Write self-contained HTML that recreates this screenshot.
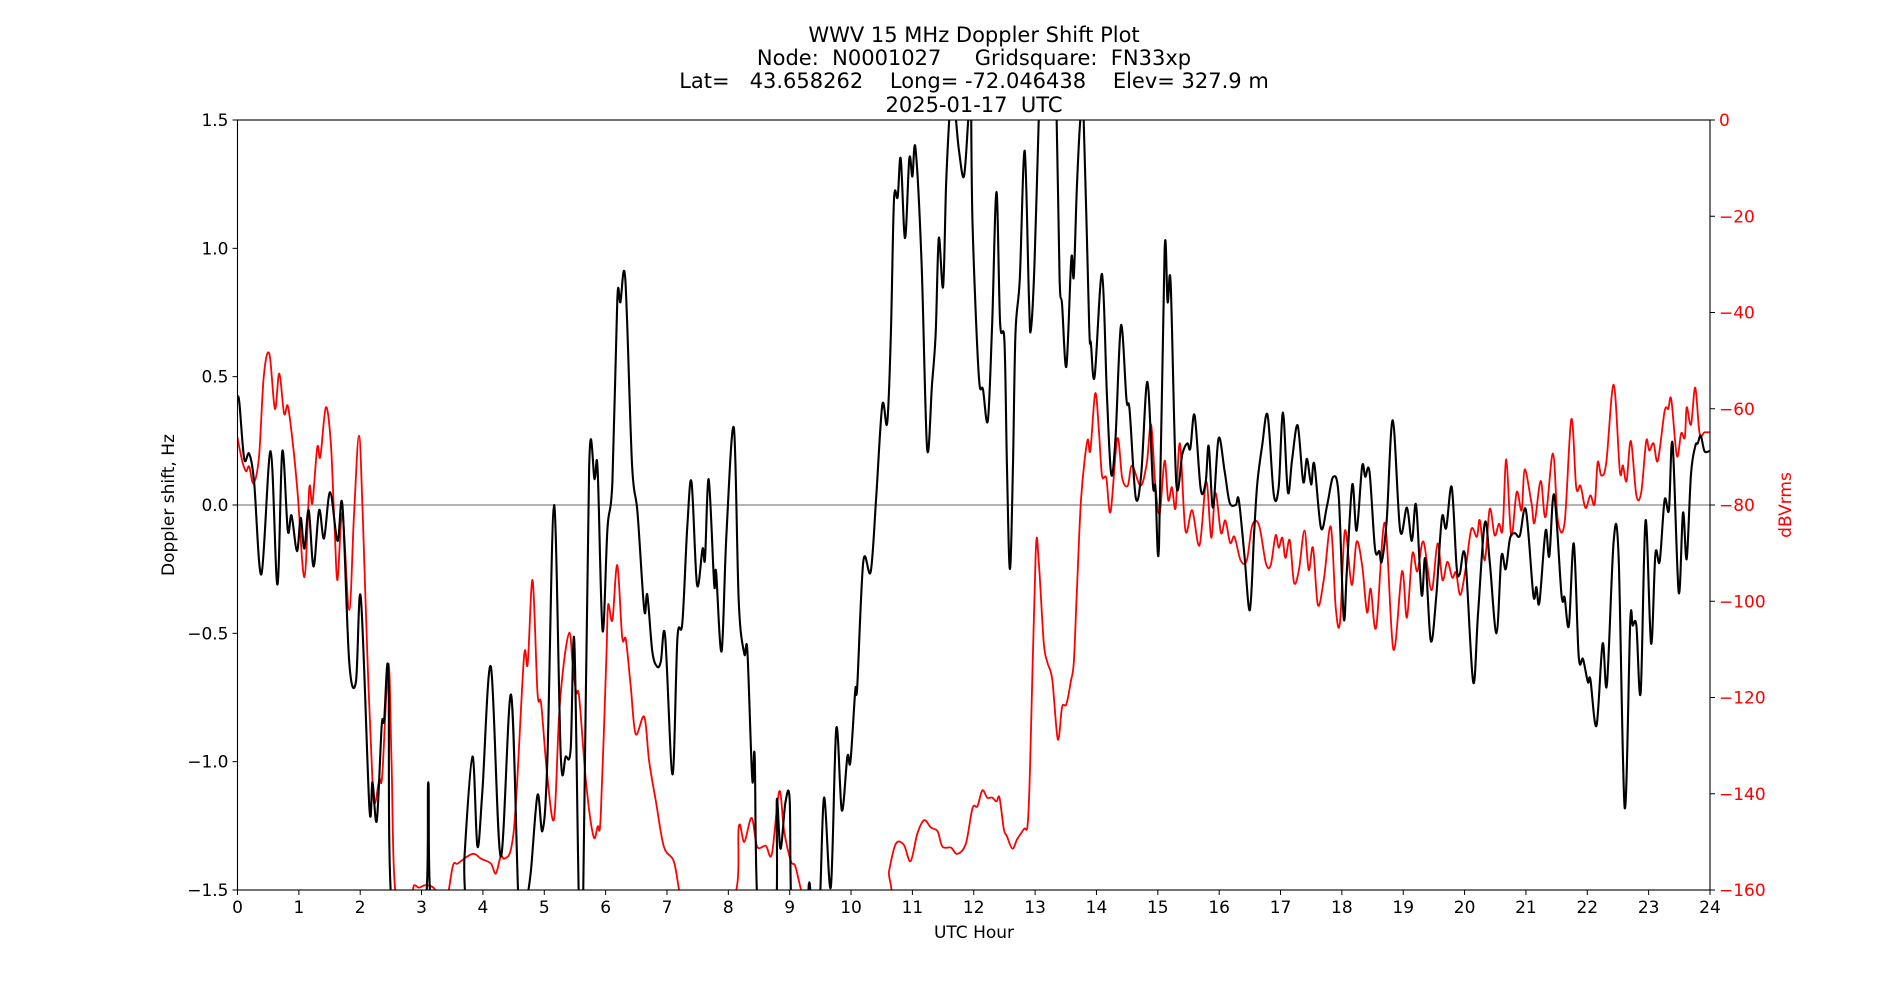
<!DOCTYPE html>
<html><head><meta charset="utf-8"><style>
html,body{margin:0;padding:0;background:#fff;}
svg{display:block;font-family:"DejaVu Sans","Liberation Sans",sans-serif;}
</style></head><body>
<svg id="chart" width="1900" height="1000" viewBox="0 0 1900 1000">
<defs><clipPath id="plotclip"><rect x="237.5" y="120" width="1472.5" height="770"/></clipPath></defs>
<rect x="0" y="0" width="1900" height="1000" fill="#fff"/>
<g font-size="21" text-anchor="middle" fill="#000">
<text x="974" y="42">WWV 15 MHz Doppler Shift Plot</text>
<text x="974" y="65" xml:space="preserve">Node:  N0001027     Gridsquare:  FN33xp</text>
<text x="974" y="88" xml:space="preserve">Lat=   43.658262    Long= -72.046438    Elev= 327.9 m</text>
<text x="974" y="112" xml:space="preserve">2025-01-17  UTC</text>
</g>
<line x1="237.5" y1="505" x2="1710" y2="505" stroke="#888" stroke-width="1.2"/>
<g id="series" clip-path="url(#plotclip)"></g>
<rect x="237.5" y="120" width="1472.5" height="770" fill="none" stroke="#000" stroke-width="1.1"/>
<g id="xticks"></g><g id="yticks"></g><g id="y2ticks"></g>
<text x="974" y="938" font-size="17" text-anchor="middle">UTC Hour</text>
<text x="0" y="0" transform="translate(174,505) rotate(-90)" font-size="17" text-anchor="middle">Doppler shift, Hz</text>
<text x="0" y="0" transform="translate(1791,505) rotate(-90)" font-size="17" text-anchor="middle" fill="#f00">dBVrms</text>
</svg>
<script>
const dopHours=[0,0.03,0.11,0.19,0.27,0.39,0.54,0.65,0.73,0.82,0.88,0.97,1.03,1.09,1.16,1.24,1.33,1.41,1.51,1.63,1.71,1.82,1.93,2.01,2.15,2.2,2.27,2.35,2.39,2.46,2.53,3.04,3.11,3.18,3.67,3.7,3.83,3.91,3.99,4.13,4.29,4.46,4.59,4.7,4.78,4.89,4.97,5.05,5.16,5.27,5.35,5.43,5.49,5.57,5.63,5.73,5.82,5.87,5.95,6.03,6.11,6.19,6.24,6.32,6.43,6.52,6.63,6.68,6.76,6.84,6.9,6.97,7.09,7.17,7.25,7.33,7.4,7.49,7.58,7.62,7.68,7.77,7.8,7.89,7.97,8.09,8.17,8.26,8.31,8.39,8.43,8.49,8.77,8.79,8.85,8.93,9.0,9.04,9.26,9.32,9.37,9.48,9.56,9.67,9.76,9.85,9.94,9.99,10.07,10.1,10.2,10.32,10.41,10.51,10.59,10.65,10.7,10.76,10.81,10.88,10.95,11.0,11.05,11.15,11.24,11.32,11.38,11.43,11.5,11.55,11.6,11.65,11.71,11.76,11.84,11.91,11.95,11.98,12.08,12.15,12.23,12.3,12.37,12.43,12.5,12.54,12.59,12.64,12.68,12.75,12.83,12.9,12.93,12.99,13.06,13.09,13.3,13.35,13.4,13.44,13.51,13.59,13.63,13.68,13.74,13.79,13.88,13.91,13.97,14.09,14.17,14.24,14.31,14.4,14.49,14.54,14.64,14.73,14.83,14.92,14.96,15.02,15.11,15.16,15.21,15.3,15.4,15.48,15.53,15.6,15.7,15.78,15.83,15.9,15.99,16.09,16.17,16.27,16.32,16.41,16.5,16.57,16.62,16.7,16.79,16.89,16.97,17.04,17.12,17.19,17.28,17.37,17.43,17.5,17.55,17.66,17.76,17.86,17.95,18.03,18.08,18.17,18.24,18.33,18.38,18.45,18.54,18.61,18.65,18.73,18.83,18.95,19.06,19.14,19.21,19.3,19.36,19.45,19.54,19.63,19.7,19.79,19.87,19.92,20.01,20.14,20.22,20.33,20.41,20.52,20.6,20.67,20.74,20.82,20.9,21.0,21.12,21.17,21.22,21.32,21.38,21.46,21.58,21.63,21.7,21.78,21.86,21.93,22.01,22.05,22.15,22.25,22.32,22.43,22.51,22.61,22.7,22.74,22.8,22.87,22.95,23.04,23.11,23.18,23.26,23.33,23.39,23.49,23.56,23.62,23.69,23.76,23.8,23.85,23.91,23.99];
const dopValues=[0.42,0.40,0.18,0.20,0.09,-0.27,0.21,-0.31,0.21,-0.10,-0.04,-0.18,-0.05,-0.17,-0.02,-0.24,-0.02,-0.13,0.05,-0.14,0.0,-0.61,-0.69,-0.36,-1.18,-1.08,-1.23,-0.86,-0.84,-0.65,-1.6,-1.6,-1.08,-1.6,-1.6,-1.37,-0.98,-1.33,-1.12,-0.63,-1.37,-0.74,-1.6,-1.55,-1.43,-1.13,-1.27,-1.0,0.0,-0.98,-0.98,-0.95,-0.53,-1.6,-1.6,0.14,0.10,0.14,-0.49,-0.09,0.09,0.80,0.79,0.88,0.16,-0.03,-0.41,-0.35,-0.57,-0.63,-0.61,-0.51,-1.05,-0.52,-0.46,-0.09,0.09,-0.31,-0.17,-0.21,0.10,-0.31,-0.26,-0.57,-0.11,0.30,-0.38,-0.58,-0.57,-1.07,-0.98,-1.6,-1.6,-1.15,-1.34,-1.16,-1.15,-1.6,-1.6,-1.47,-1.6,-1.6,-1.14,-1.49,-0.87,-1.19,-0.98,-1.0,-0.72,-0.71,-0.22,-0.26,0.03,0.39,0.32,0.67,1.19,1.20,1.35,1.04,1.35,1.28,1.39,0.94,0.22,0.47,0.67,1.04,0.85,1.25,1.5,1.65,1.5,1.38,1.28,1.5,1.65,1.1,0.51,0.45,0.33,0.71,1.22,0.71,0.64,0.16,-0.25,0.16,0.67,0.88,1.38,0.80,0.68,0.94,1.51,1.65,1.65,1.51,0.88,0.78,0.54,0.96,0.89,1.23,1.51,1.51,0.71,0.63,0.50,0.90,0.43,0.12,0.26,0.70,0.41,0.37,0.03,0.12,0.48,0.08,0.07,-0.16,0.99,0.79,0.86,0.09,0.20,0.24,0.22,0.35,0.06,0.09,0.23,-0.01,0.26,0.13,0.01,0.0,0.02,-0.19,-0.41,-0.11,0.08,0.23,0.35,0.04,0.07,0.36,0.05,0.18,0.31,0.09,0.18,0.08,0.16,-0.09,0.0,0.11,0.03,-0.44,-0.26,0.08,-0.10,0.15,0.11,0.13,-0.17,-0.18,-0.22,-0.06,0.33,-0.10,-0.01,-0.14,0.0,-0.35,-0.21,-0.53,-0.35,-0.05,-0.09,0.07,-0.24,-0.27,-0.20,-0.69,-0.42,-0.07,-0.22,-0.50,-0.20,-0.25,-0.13,-0.11,-0.12,-0.02,-0.35,-0.32,-0.38,-0.10,-0.20,0.04,-0.35,-0.36,-0.47,-0.15,-0.59,-0.60,-0.69,-0.68,-0.86,-0.54,-0.70,-0.14,-0.20,-1.18,-0.46,-0.47,-0.47,-0.73,-0.06,-0.54,-0.19,-0.22,0.02,-0.02,0.24,-0.34,-0.03,-0.21,0.12,0.23,0.24,0.27,0.21,0.21];
const sigHours=[0,0.03,0.08,0.14,0.19,0.26,0.35,0.43,0.52,0.61,0.68,0.76,0.82,0.9,0.98,1.09,1.17,1.22,1.3,1.35,1.44,1.52,1.58,1.63,1.71,1.82,1.9,1.98,2.04,2.12,2.2,2.24,2.31,2.36,2.46,2.51,2.58,2.83,2.88,2.96,3.07,3.21,3.29,3.41,3.51,3.59,3.75,3.86,3.97,4.13,4.21,4.29,4.35,4.46,4.54,4.67,4.73,4.81,4.89,4.95,5.05,5.16,5.24,5.32,5.41,5.46,5.52,5.57,5.68,5.8,5.87,5.92,6.01,6.04,6.11,6.19,6.27,6.33,6.41,6.49,6.63,6.71,6.82,6.95,7.11,7.2,7.25,8.07,8.17,8.26,8.38,8.47,8.61,8.71,8.83,8.91,9.02,9.09,9.18,9.23,10.54,10.62,10.73,10.86,10.97,11.08,11.19,11.3,11.41,11.49,11.63,11.73,11.87,11.98,12.06,12.14,12.22,12.3,12.37,12.42,12.49,12.54,12.63,12.71,12.82,12.88,12.92,13.01,13.06,13.14,13.2,13.28,13.37,13.44,13.51,13.58,13.63,13.68,13.75,13.85,13.9,13.98,14.04,14.09,14.16,14.23,14.34,14.42,14.51,14.58,14.72,14.82,14.89,14.96,15.03,15.11,15.17,15.23,15.29,15.36,15.45,15.56,15.68,15.79,15.87,15.94,16.03,16.1,16.18,16.25,16.35,16.45,16.54,16.65,16.76,16.84,16.92,16.97,17.03,17.08,17.15,17.22,17.3,17.39,17.46,17.53,17.61,17.71,17.82,17.9,17.97,18.05,18.16,18.24,18.33,18.41,18.47,18.56,18.7,18.84,18.98,19.06,19.15,19.23,19.33,19.46,19.56,19.64,19.72,19.8,19.86,19.93,20.02,20.11,20.2,20.25,20.33,20.41,20.49,20.56,20.62,20.68,20.76,20.85,20.93,20.98,21.09,21.14,21.24,21.32,21.44,21.52,21.63,21.74,21.82,21.89,21.97,22.05,22.12,22.17,22.23,22.31,22.43,22.53,22.58,22.64,22.71,22.8,22.88,22.96,23.01,23.08,23.15,23.26,23.32,23.37,23.46,23.53,23.59,23.62,23.69,23.76,23.83,23.91,23.99];
const sigValues=[-66,-68,-71,-73,-72,-75.5,-70,-53,-48.6,-60,-52.7,-61,-59.4,-67,-77.5,-95,-76.5,-79.6,-68,-70,-59.7,-67,-83.7,-95.6,-81.7,-101.8,-81.7,-65.6,-81.7,-112.7,-137.5,-142,-137,-136,-113,-133,-161,-160.4,-159,-159.5,-159,-159.7,-162,-162,-155,-154.5,-153,-152.5,-153.5,-154.5,-156.6,-153,-153.5,-151.4,-141.6,-111.6,-113,-95.6,-119,-121.4,-136.4,-145.2,-124,-112.7,-106.5,-112.7,-118.9,-120,-137.5,-148.8,-146.8,-144.7,-112.7,-100.8,-103.9,-92.5,-107.5,-108,-117.8,-127.6,-124,-133.3,-141.6,-151,-154,-160.2,-162,-162,-146.8,-150,-145,-151,-150.8,-152.5,-139.5,-147.8,-154,-155,-159.7,-162,-162,-156,-150.4,-150.6,-154,-148.3,-145.5,-147,-147.8,-151,-151.2,-152.5,-150.4,-143,-142.6,-139.3,-140.8,-140.8,-141.6,-140.8,-147.3,-148.8,-151.4,-149.4,-147.3,-146.3,-133.3,-90,-92,-108.5,-112.7,-116.3,-128.7,-122,-121.4,-116.8,-112.7,-98.2,-78.6,-66.7,-68.7,-56.8,-64.6,-73.9,-74.4,-81.4,-66.2,-74.4,-76,-71.8,-76,-71.3,-63.3,-76,-81.7,-70.8,-79,-76.3,-80.6,-67.2,-85.3,-81.1,-88.4,-75.2,-86.8,-77.5,-85.8,-83.2,-87.9,-86.6,-91.5,-91.5,-84.2,-84.2,-92,-92.5,-86.3,-88.9,-86.8,-91,-87.3,-96.1,-93.5,-85.3,-93.5,-88.9,-100.8,-95.1,-84.5,-101.3,-104.4,-85.3,-96.6,-87.6,-92.5,-102.3,-97.4,-105.4,-83.7,-110,-93.8,-103.4,-90.1,-93.8,-87.6,-97.7,-88,-95.6,-91.8,-95.1,-94,-98.7,-93,-85,-86.6,-83.2,-91.5,-80.8,-86.3,-83.9,-85,-70.5,-86.3,-77.3,-81.1,-72.6,-79.6,-83.7,-75,-82.5,-69.3,-83.2,-83.7,-62.2,-76.3,-76,-80.6,-78,-79.8,-71.1,-73.9,-71.1,-55,-72.9,-71.8,-75,-66.7,-78,-77.3,-66.7,-68.7,-67.2,-70.8,-60.5,-60,-58.1,-69.8,-65.1,-66,-59.7,-63.3,-55.6,-65.1,-64.9,-64.9];
const xTickLabels=["0","1","2","3","4","5","6","7","8","9","10","11","12","13","14","15","16","17","18","19","20","21","22","23","24"];
const yTickLabels=["\u22121.5","\u22121.0","\u22120.5","0.0","0.5","1.0","1.5"];
const yTickValues=[-1.5,-1.0,-0.5,0,0.5,1.0,1.5];
const y2TickValues=[-160,-140,-120,-100,-80,-60,-40,-20,0];
const y2TickLabels=["\u2212160","\u2212140","\u2212120","\u2212100","\u221280","\u221260","\u221240","\u221220","0"];

const L=237.5,R=1710,T=120,B=890,NS="http://www.w3.org/2000/svg";
const xs=h=>L+(h/24)*(R-L);
const ys=v=>B-((v+1.5)/3)*(B-T);
const y2s=d=>B-((d+160)/160)*(B-T);
function mk(tag,attrs,parent){const e=document.createElementNS(NS,tag);for(const k in attrs)e.setAttribute(k,attrs[k]);parent.appendChild(e);return e;}
function smoothPath(pts){
  let d='M'+pts[0][0].toFixed(1)+','+pts[0][1].toFixed(1);
  for(let i=0;i<pts.length-1;i++){
    const p0=pts[Math.max(0,i-1)],p1=pts[i],p2=pts[i+1],p3=pts[Math.min(pts.length-1,i+2)];
    const c1x=p1[0]+(p2[0]-p0[0])/6,c1y=p1[1]+(p2[1]-p0[1])/6;
    const c2x=p2[0]-(p3[0]-p1[0])/6,c2y=p2[1]-(p3[1]-p1[1])/6;
    d+=' C'+c1x.toFixed(1)+','+c1y.toFixed(1)+' '+c2x.toFixed(1)+','+c2y.toFixed(1)+' '+p2[0].toFixed(1)+','+p2[1].toFixed(1);
  }
  return d;
}

const series=document.getElementById('series');
const redLine=mk('path',{d:smoothPath(sigHours.map((h,i)=>[xs(h),y2s(sigValues[i])])),fill:'none',stroke:'#f00','stroke-width':'1.8','stroke-linejoin':'round'},series);


const blackLine=mk('path',{d:smoothPath(dopHours.map((h,i)=>[xs(h),ys(dopValues[i])])),fill:'none',stroke:'#000','stroke-width':'2.1','stroke-linejoin':'round'},series);



const xt=document.getElementById('xticks');
xTickLabels.forEach((lab,i)=>{
  const x=xs(i);
  const tk=mk('line',{x1:x,y1:B,x2:x,y2:B+5,stroke:'#000','stroke-width':'1'},xt);
  
  
  const t=mk('text',{x:x,y:B+23,'font-size':'17','text-anchor':'middle'},xt);
  t.textContent=lab;
  
  
});
const yt=document.getElementById('yticks');
yTickValues.forEach((v,i)=>{
  const y=ys(v);
  const tk=mk('line',{x1:L-5,y1:y,x2:L,y2:y,stroke:'#000','stroke-width':'1'},yt);
  
  
  const t=mk('text',{x:L-9,y:y+6,'font-size':'17','text-anchor':'end'},yt);
  t.textContent=yTickLabels[i];
  
  
});
const y2t=document.getElementById('y2ticks');
y2TickValues.forEach((v,i)=>{
  const y=y2s(v);
  const tk=mk('line',{x1:R,y1:y,x2:R+5,y2:y,stroke:'#000','stroke-width':'1'},y2t);
  
  
  const t=mk('text',{x:R+9,y:y+6,'font-size':'17','text-anchor':'start',fill:'#f00'},y2t);
  t.textContent=y2TickLabels[i];
  
  
});
</script>
</body></html>
